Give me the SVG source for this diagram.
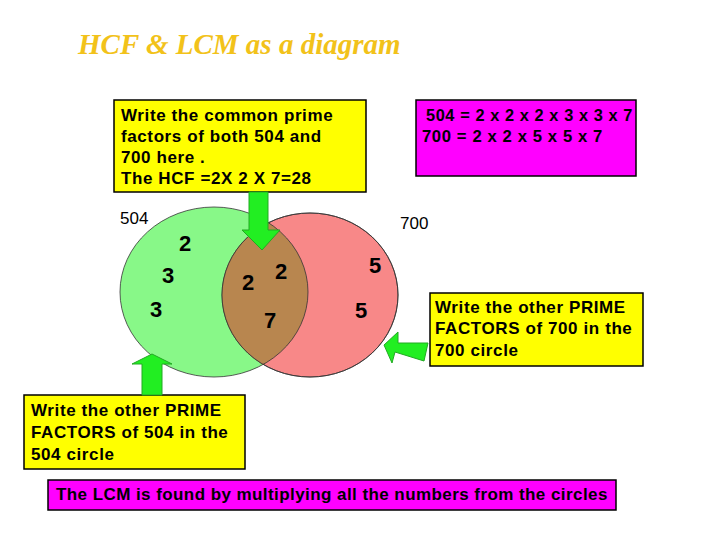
<svg xmlns="http://www.w3.org/2000/svg" width="720" height="540" viewBox="0 0 720 540">
<style>
.t{font-family:"Liberation Sans",Arial,sans-serif;font-weight:bold;font-size:17px;letter-spacing:0.6px;fill:#000}
.n{font-family:"Liberation Sans",Arial,sans-serif;font-weight:bold;font-size:22px;fill:#000}
.l{font-family:"Liberation Sans",Arial,sans-serif;font-size:17px;fill:#000}
.yb{fill:#ffff00;stroke:#000;stroke-width:1.5}
.mb{fill:#ff00ff;stroke:#000;stroke-width:1.5}
.ar{fill:#22ee22;stroke:#22aa22;stroke-width:1}
</style>
<defs><clipPath id="cr"><ellipse cx="310" cy="295" rx="88" ry="82"/></clipPath></defs>
<rect width="720" height="540" fill="#fff"/>
<text x="78" y="54" font-family="'Liberation Serif',serif" font-style="italic" font-weight="bold" font-size="29" fill="#f2c21a">HCF &amp; LCM as a diagram</text>
<g id="venn">
<ellipse cx="214" cy="292" rx="94" ry="85" fill="#88f888" stroke="#333" stroke-width="0.8"/>
<ellipse cx="310" cy="295" rx="88" ry="82" fill="#f88888" stroke="#333" stroke-width="0.8"/>
<ellipse cx="214" cy="292" rx="94" ry="85" fill="#b8864f" stroke="#333" stroke-width="0.8" clip-path="url(#cr)"/>
<ellipse cx="310" cy="295" rx="88" ry="82" fill="none" stroke="#333" stroke-width="0.8"/>
<text class="l" x="120" y="224">504</text>
<text class="l" x="400" y="229">700</text>
<text class="n" x="179" y="251">2</text>
<text class="n" x="162" y="283">3</text>
<text class="n" x="150" y="317">3</text>
<text class="n" x="242" y="290">2</text>
<text class="n" x="275" y="279">2</text>
<text class="n" x="264" y="328">7</text>
<text class="n" x="369" y="273">5</text>
<text class="n" x="355" y="318">5</text>
</g>
<g id="hcf">
<rect class="yb" x="114" y="100" width="252" height="92"/>
<text class="t" x="121" y="121">Write the common prime</text>
<text class="t" x="121" y="142">factors of both 504  and</text>
<text class="t" x="121" y="163">700 here .</text>
<text class="t" x="121" y="184">The HCF =2X 2 X 7=28</text>
</g>
<g id="factors">
<rect class="mb" x="416" y="100" width="220" height="76"/>
<text class="t" x="426" y="121" textLength="207" lengthAdjust="spacingAndGlyphs">504 = 2 x 2 x 2 x 3 x 3 x 7</text>
<text class="t" x="422" y="142" textLength="181" lengthAdjust="spacingAndGlyphs">700 = 2 x 2 x 5 x 5 x 7</text>
</g>
<g id="other700">
<rect class="yb" x="430" y="293" width="213" height="73"/>
<text class="t" x="435" y="313">Write the other PRIME</text>
<text class="t" x="435" y="334">FACTORS of 700 in the</text>
<text class="t" x="435" y="356">700 circle</text>
</g>
<g id="other504">
<rect class="yb" x="24" y="395" width="221" height="74"/>
<text class="t" x="31" y="416">Write the other PRIME</text>
<text class="t" x="31" y="438">FACTORS of 504 in the</text>
<text class="t" x="31" y="460">504 circle</text>
</g>
<g id="lcm">
<rect class="mb" x="48" y="480" width="568" height="30"/>
<text class="t" x="56" y="500" textLength="552">The LCM is found by multiplying all the numbers from the circles</text>
</g>
<g id="connectors">
<polygon class="ar" points="249,192 268,192 268,230 280,230 262,250 242,230 249,230"/>
<polygon class="ar" points="142,395 162,395 162,364 172,364 152,354 132,364 142,364"/>
<polygon class="ar" points="428,343 424,361 395,352 392,363 384,345 398,332 398,343"/>
</g>
</svg>
